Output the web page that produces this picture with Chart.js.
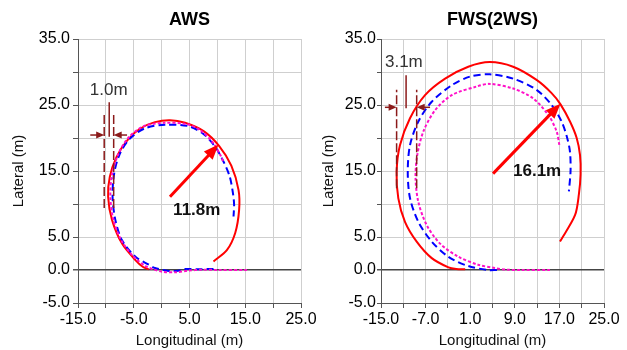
<!DOCTYPE html>
<html>
<head>
<meta charset="utf-8">
<script src="https://cdn.jsdelivr.net/npm/chart.js@4.4.0/dist/chart.umd.min.js"></script>
<style>
  body{margin:0;background:#fff;width:627px;height:350px;overflow:hidden;position:relative}
  .box{position:absolute;top:0;height:350px}
</style>
</head>
<body>
<div class="box" style="left:0;width:325px"><canvas id="aws" width="325" height="350"></canvas></div>
<div class="box" style="left:313px;width:314px"><canvas id="fws" width="314" height="350"></canvas></div>
<script>
// ---- AWS (left) ----
const awsOuter = [[-2.3,0.1],[-3.4,0.5],[-4.7,1.5],[-7.1,4.0],[-8.9,7.6],[-9.6,11.1],[-9.3,14.1],[-8.1,17.1],[-6.2,19.6],[-3.9,21.4],[-1.2,22.4],[1.5,22.7],[4.2,22.3],[7.6,21.0],[10.3,18.8],[12.5,15.8],[13.8,12.1],[13.9,9.1],[13.2,5.6],[11.7,3.0],[9.3,1.3]];
const awsMid = [[9.3,0.15],[8.4,0.15],[6.5,0.1],[4.2,0.15],[3.0,-0.1],[1.5,-0.15],[0.3,0.0],[-1.2,0.3],[-2.3,0.8],[-4.7,2.0],[-7.1,4.5],[-8.3,7.6],[-8.8,11.1],[-8.5,14.7],[-7.5,17.6],[-5.7,19.9],[-2.9,21.5],[0.6,22.0],[4.8,21.8],[7.5,20.6],[9.5,18.8],[11.0,16.6],[12.2,14.2],[12.8,11.6],[13.0,9.9],[12.9,8.1]];
const awsInner = [[15.3,0.0],[10.0,0.0],[7.2,0.05],[4.8,-0.1],[2.4,-0.35],[0.05,-0.25],[-1.5,0.1],[-2.9,0.6],[-5.0,2.0],[-7.3,4.6],[-8.7,7.8],[-9.2,11.1],[-8.9,14.5],[-7.8,17.5],[-6.0,20.0],[-3.2,21.8],[0.5,22.3],[4.5,22.1],[6.9,21.2],[9.2,19.3],[10.6,17.3],[11.1,16.3]];
const awsXTicks = [-15,-10,-5,0,5,10,15,20,25];
const awsXLabels = [-15,-5,5,15,25];
const awsRadius = [[1.5,11.1],[10.2,19.0]];
const awsRadiusText = ['11.8m', 6.3, 9.1];
const awsGapX = [-10.3,-8.6];
const awsGapY = [9.4,23.5];
const awsGapMid = [-9.4,20.2,25.4];
const awsGapArrows = [20.45,-12.8,-6.2];
const awsGapText = ['1.0m', -9.5, 27.3];

// ---- FWS(2WS) (right) ----
const fwsOuter = [[0.1,0.1],[-1.5,0.15],[-2.9,0.4],[-5.9,1.8],[-8.6,4.3],[-10.7,7.3],[-11.9,10.9],[-12.2,14.9],[-11.6,18.9],[-9.8,23.0],[-7.1,26.5],[-3.5,29.0],[0.65,30.8],[4.5,31.5],[8.7,30.8],[12.9,28.8],[15.6,26.8],[17.2,25.1],[18.9,22.5],[20.1,20.0],[20.7,17.4],[20.8,14.5],[20.5,11.5],[19.8,8.3],[17.1,4.3]];
const fwsMid = [[5.8,0.0],[4.2,0.0],[0.65,0.6],[-2.9,2.0],[-5.9,4.3],[-8.3,7.3],[-9.8,10.9],[-10.2,14.9],[-9.8,18.9],[-8.3,22.5],[-5.9,25.5],[-2.3,28.0],[0.95,29.3],[4.5,29.65],[8.7,29.0],[12.9,27.3],[15.6,25.0],[17.4,22.5],[18.4,20.0],[18.9,17.9],[19.0,15.0],[18.7,11.9]];
const fwsInner = [[15.3,0.0],[10.0,0.0],[7.5,0.05],[5.4,0.3],[2.4,0.8],[-1.1,2.0],[-4.4,4.0],[-6.8,6.8],[-8.3,10.3],[-8.8,13.9],[-8.5,17.4],[-7.4,21.0],[-5.3,24.2],[-2.3,26.5],[2.15,27.8],[4.5,28.2],[8.7,27.5],[12.3,26.0],[15.0,23.5],[16.5,21.0],[17.0,18.9]];
const fwsXTicks = [-15,-11,-7,-3,1,5,9,13,17,21,25];
const fwsXLabels = [-15,-7,1,9,17,25];
const fwsRadius = [[5.1,14.6],[17.2,25.2]];
const fwsRadiusText = ['16.1m', 13.0, 14.9];
const fwsGapX = [-12.2,-8.6];
const fwsGapY = [12.4,27.3];
const fwsGapMid = [-10.5,24.5,29.5];
const fwsGapArrows = [24.65,-14.3,-6.2];
const fwsGapText = ['3.1m', -10.9, 31.4];

const yTicks = [-5,0,5,10,15,20,25,30,35];
const yLabels = [-5,0,5,15,25,35];

const FONT = '"Liberation Sans", Arial, sans-serif';
const pts = a => a.map(p => ({x: p[0], y: p[1]}));

function arrowHead(ctx, x1, y1, x2, y2, len, wid) {
  const a = Math.atan2(y2 - y1, x2 - x1);
  const bx = x2 - len * Math.cos(a), by = y2 - len * Math.sin(a);
  ctx.beginPath();
  ctx.moveTo(x2, y2);
  ctx.lineTo(bx + wid / 2 * Math.sin(a), by - wid / 2 * Math.cos(a));
  ctx.lineTo(bx - wid / 2 * Math.sin(a), by + wid / 2 * Math.cos(a));
  ctx.closePath();
  ctx.fill();
}

function marksPlugin(title, radius, radiusText, gapX, gapY, gapMid, gapArrows, gapText) {
  return {
    id: 'marks',
    afterDatasetsDraw(chart) {
      const ctx = chart.ctx, xs = chart.scales.x, ys = chart.scales.y;
      const X = v => xs.getPixelForValue(v), Y = v => ys.getPixelForValue(v);
      ctx.save();
      // width markers
      ctx.strokeStyle = '#8b1a1a';
      ctx.fillStyle = '#8b1a1a';
      ctx.lineWidth = 1.5;
      ctx.setLineDash([9, 3]);
      gapX.forEach(gx => {
        ctx.beginPath(); ctx.moveTo(X(gx), Y(gapY[0])); ctx.lineTo(X(gx), Y(gapY[1])); ctx.stroke();
      });
      ctx.setLineDash([]);
      ctx.beginPath(); ctx.moveTo(X(gapMid[0]), Y(gapMid[1])); ctx.lineTo(X(gapMid[0]), Y(gapMid[2])); ctx.stroke();
      const ay = Y(gapArrows[0]);
      ctx.beginPath(); ctx.moveTo(X(gapArrows[1]), ay); ctx.lineTo(X(gapX[0]) - 6, ay); ctx.stroke();
      arrowHead(ctx, X(gapArrows[1]), ay, X(gapX[0]), ay, 8, 7);
      ctx.beginPath(); ctx.moveTo(X(gapArrows[2]), ay); ctx.lineTo(X(gapX[1]) + 6, ay); ctx.stroke();
      arrowHead(ctx, X(gapArrows[2]), ay, X(gapX[1]), ay, 8, 7);
      ctx.fillStyle = '#333';
      ctx.font = '17px ' + FONT;
      ctx.textAlign = 'center'; ctx.textBaseline = 'middle';
      ctx.fillText(gapText[0], X(gapText[1]), Y(gapText[2]));
      // radius arrow
      const x1 = X(radius[0][0]), y1 = Y(radius[0][1]), x2 = X(radius[1][0]), y2 = Y(radius[1][1]);
      const a = Math.atan2(y2 - y1, x2 - x1);
      ctx.strokeStyle = '#ff0000'; ctx.fillStyle = '#ff0000'; ctx.lineWidth = 3;
      ctx.beginPath(); ctx.moveTo(x1, y1); ctx.lineTo(x2 - 10 * Math.cos(a), y2 - 10 * Math.sin(a)); ctx.stroke();
      arrowHead(ctx, x1, y1, x2, y2, 15, 12);
      ctx.fillStyle = '#111';
      ctx.font = 'bold 17px ' + FONT;
      ctx.fillText(radiusText[0], X(radiusText[1]), Y(radiusText[2]));
      // title
      ctx.fillStyle = '#000';
      ctx.font = 'bold 18px ' + FONT;
      ctx.fillText(title, (chart.chartArea.left + chart.chartArea.right) / 2, 20);
      ctx.restore();
    }
  };
}

function makeChart(id, outer, mid, inner, xTicks, xLabels, lay, marks) {
  const tickFont = {family: FONT, size: 16};
  new Chart(document.getElementById(id), {
    type: 'scatter',
    data: {
      datasets: [
        {data: pts(inner), showLine: true, borderColor: '#ff10c8', borderWidth: 2, borderDash: [3, 2], tension: 0.3, pointRadius: 0},
        {data: pts(mid), showLine: true, borderColor: '#0000ff', borderWidth: 2, borderDash: [7, 4], tension: 0.3, pointRadius: 0},
        {data: pts(outer), showLine: true, borderColor: '#ff0000', borderWidth: 2, tension: 0.3, pointRadius: 0}
      ]
    },
    options: {
      responsive: false,
      animation: false,
      layout: {padding: {left: lay.pl, right: lay.pr, top: 39, bottom: 0}},
      plugins: {legend: {display: false}, tooltip: {enabled: false}},
      scales: {
        x: {
          type: 'linear', min: -15, max: 25,
          afterBuildTicks: s => { s.ticks = xTicks.map(v => ({value: v})); },
          afterFit: s => { s.height = 47; },
          ticks: {autoSkip: false, maxRotation: 0, padding: 2, color: '#000', font: tickFont,
                  callback: v => xLabels.includes(v) ? v.toFixed(1) : ''},
          grid: {color: '#cfcfcf', tickColor: '#555', tickLength: 5},
          border: {color: '#555', width: 1},
          title: {display: true, text: 'Longitudinal (m)', color: '#111', font: {family: FONT, size: 15}, padding: {top: 0, bottom: 0}}
        },
        y: {
          type: 'linear', min: -5, max: 35,
          afterBuildTicks: s => { s.ticks = yTicks.map(v => ({value: v})); },
          afterFit: s => { s.width = lay.yw; },
          ticks: {autoSkip: false, padding: lay.tp, color: '#000', font: tickFont,
                  callback: v => yLabels.includes(v) ? v.toFixed(1) : ''},
          grid: {color: c => (c.tick && c.tick.value === 0) ? '#444' : '#cfcfcf',
                 lineWidth: c => (c.tick && c.tick.value === 0) ? 1.5 : 1,
                 tickColor: '#555', tickLength: lay.tl},
          border: {color: '#555', width: 1},
          title: {display: true, text: 'Lateral (m)', color: '#111', font: {family: FONT, size: 15}, padding: {top: lay.ttp, bottom: 0}}
        }
      }
    },
    plugins: [marks]
  });
}

makeChart('aws', awsOuter, awsMid, awsInner, awsXTicks, awsXLabels,
  {pl: 8, pr: 24, yw: 70, tp: 3, tl: 5, ttp: 2},
  marksPlugin('AWS', awsRadius, awsRadiusText, awsGapX, awsGapY, awsGapMid, awsGapArrows, awsGapText));
makeChart('fws', fwsOuter, fwsMid, fwsInner, fwsXTicks, fwsXLabels,
  {pl: 4, pr: 23, yw: 64, tp: 1, tl: 4, ttp: 3},
  marksPlugin('FWS(2WS)', fwsRadius, fwsRadiusText, fwsGapX, fwsGapY, fwsGapMid, fwsGapArrows, fwsGapText));
</script>
</body>
</html>
